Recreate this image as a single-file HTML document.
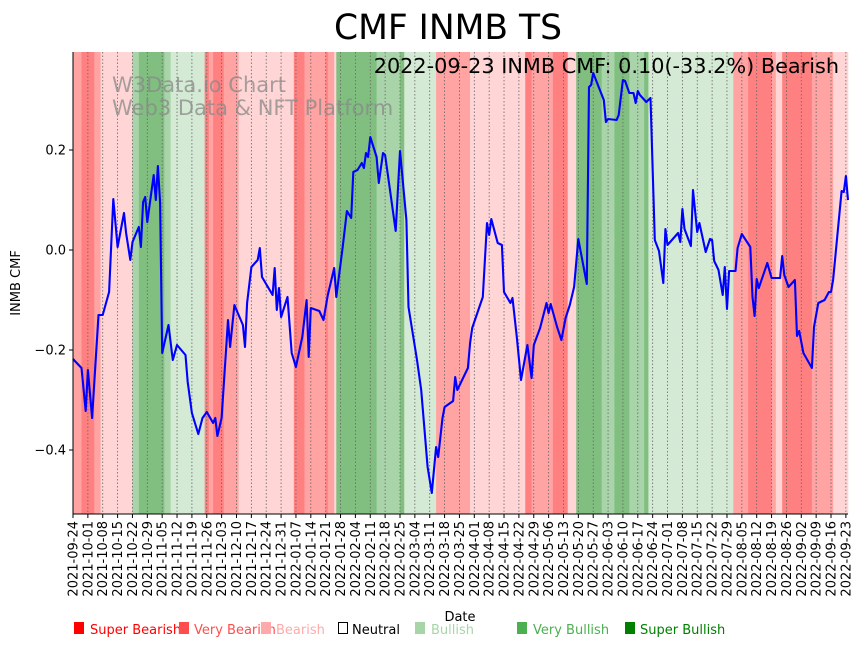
<!DOCTYPE html>
<html><head><meta charset="utf-8"><style>
html,body{margin:0;padding:0;background:#fff;}
svg{display:block;font-family:"DejaVu Sans","Liberation Sans",sans-serif;}
</style></head><body>
<svg id="chart" width="864" height="646" viewBox="0 0 864 646" xmlns="http://www.w3.org/2000/svg">
<text x="448" y="39" font-size="34.5" text-anchor="middle" fill="#000">CMF INMB TS</text>
<g id="bands"></g>
<g id="grid"></g>
<text x="112" y="92" font-size="21" fill="#888" fill-opacity="0.75">W3Data.io Chart</text>
<text x="112" y="115" font-size="21" fill="#888" fill-opacity="0.75">Web3 Data &amp; NFT Platform</text>
<text x="839" y="73" font-size="20.8" text-anchor="end" fill="#000">2022-09-23 INMB CMF: 0.10(-33.2%) Bearish</text>
<path id="line" fill="none" stroke="#0000ff" stroke-width="2.1" stroke-linejoin="round"></path>
<g id="axes"></g>
<text transform="translate(20,283) rotate(-90)" font-size="13" text-anchor="middle">INMB CMF</text>
<text x="460" y="621" font-size="13" text-anchor="middle">Date</text>
<g font-size="13">
<g><rect x="74" y="622" width="10" height="12" fill="#ff0000"/><text x="90" y="634" fill="#ff0000">Super Bearish</text></g>
<g><rect x="179" y="622" width="10" height="12" fill="#ff4d4d"/><text x="194" y="634" fill="#ff4d4d">Very Bearish</text></g>
<g><rect x="261" y="622" width="10" height="12" fill="#ffaaaa"/><text x="276" y="634" fill="#ffaaaa">Bearish</text></g>
<g><rect x="338.5" y="622.5" width="9" height="11" fill="none" stroke="#000"/><text x="352" y="634" fill="#000">Neutral</text></g>
<g><rect x="415" y="622" width="10" height="12" fill="#a8d5a8"/><text x="431" y="634" fill="#a8d5a8">Bullish</text></g>
<g><rect x="517" y="622" width="10" height="12" fill="#4caf50"/><text x="533" y="634" fill="#4caf50">Very Bullish</text></g>
<g><rect x="625" y="622" width="10" height="12" fill="#008000"/><text x="640" y="634" fill="#008000">Super Bullish</text></g>
</g>
</svg>
<script>
var days = [0,4,6,7,9,12,14,17,19,21,24,25,27,28,31,32,33,34,35,38,39,40,41,42,45,47,49,53,54,56,59,61,63,66,67,68,70,73,74,76,80,81,82,84,87,88,89,94,95,96,97,98,101,103,105,108,110,111,112,116,118,120,123,124,127,129,131,132,134,136,137,138,139,140,143,144,146,147,152,154,157,158,162,164,167,169,171,172,174,175,179,180,181,186,187,188,193,195,196,197,200,202,203,206,207,209,211,214,216,217,220,223,224,225,228,230,232,234,236,238,242,243,244,245,250,251,252,256,257,259,260,262,264,265,266,267,270,272,274,276,278,279,280,285,286,287,288,291,292,294,295,298,300,301,302,304,306,307,308,309,312,313,315,319,320,321,322,323,327,329,333,334,335,337,340,341,342,344,348,349,351,354,356,357,358,362,363,364,365];
var cmfValues = [-0.218,-0.236,-0.322,-0.240,-0.336,-0.130,-0.130,-0.084,0.102,0.006,0.074,0.034,-0.020,0.016,0.046,0.006,0.096,0.106,0.056,0.150,0.100,0.168,0.094,-0.206,-0.150,-0.220,-0.190,-0.210,-0.264,-0.326,-0.368,-0.336,-0.324,-0.346,-0.336,-0.372,-0.336,-0.140,-0.194,-0.110,-0.150,-0.194,-0.106,-0.034,-0.020,0.004,-0.054,-0.090,-0.036,-0.120,-0.076,-0.134,-0.094,-0.206,-0.234,-0.174,-0.100,-0.214,-0.116,-0.122,-0.140,-0.090,-0.036,-0.094,0.006,0.078,0.064,0.156,0.160,0.174,0.164,0.194,0.186,0.226,0.186,0.134,0.194,0.190,0.038,0.198,0.060,-0.114,-0.220,-0.280,-0.434,-0.486,-0.394,-0.414,-0.336,-0.314,-0.302,-0.254,-0.280,-0.236,-0.186,-0.156,-0.094,0.054,0.030,0.062,0.014,0.010,-0.084,-0.106,-0.096,-0.174,-0.260,-0.190,-0.256,-0.190,-0.156,-0.106,-0.126,-0.108,-0.154,-0.180,-0.136,-0.110,-0.074,0.022,-0.068,0.326,0.330,0.354,0.300,0.256,0.262,0.260,0.270,0.340,0.338,0.314,0.314,0.294,0.318,0.310,0.296,0.304,0.020,-0.002,-0.066,0.042,0.010,0.034,0.016,0.082,0.042,0.008,0.120,0.036,0.054,-0.004,0.022,0.020,-0.022,-0.040,-0.090,-0.034,-0.118,-0.042,-0.042,0.004,0.032,0.006,-0.094,-0.132,-0.058,-0.076,-0.026,-0.056,-0.056,-0.012,-0.050,-0.074,-0.060,-0.172,-0.162,-0.206,-0.236,-0.154,-0.106,-0.100,-0.084,-0.084,-0.060,0.118,0.116,0.148,0.100];
var bandStart = [0,4,10,13,28,31,43,46,62,64,66,71,78,104,109,119,120,123,124,143,149,154,156,171,187,213,216,226,233,237,249,255,262,269,271,311,318,329,331,333,334,348,358];
var bandCat = [2,1,2,3,6,7,6,5,1,2,1,2,3,1,2,1,2,3,7,6,6,7,5,2,3,1,2,1,3,7,6,7,6,7,5,2,1,2,3,3,1,2,3];
var yTicks = [0.2, 0.0, -0.2, -0.4];
var yTickLabels = ["0.2","0.0","\u22120.2","\u22120.4"];
var startDate = "2021-09-24";
var totalDays = 365;

var NS = "http://www.w3.org/2000/svg";
var L=73,R=848,T=52,B=514, YMAX=0.396, YMIN=-0.528;
function xs(d){return L + d*(R-L)/totalDays;}
function ys(v){return T + (YMAX-v)/(YMAX-YMIN)*(B-T);}
var bandColors = {1:"#ff8080",2:"#ffa3a3",3:"#ffd5d5",5:"#d4ead4",6:"#a9d4a9",7:"#80bf80"};
var bandNames = {1:"super-bearish",2:"very-bearish",3:"bearish",5:"bullish",6:"very-bullish",7:"super-bullish"};
function mk(tag, attrs, parent){var e=document.createElementNS(NS,tag);for(var k in attrs)e.setAttribute(k,attrs[k]);parent.appendChild(e);return e;}

var gb=document.getElementById("bands");
for(var i=0;i<bandStart.length;i++){
  var s=bandStart[i], e=(i+1<bandStart.length)?bandStart[i+1]:totalDays;
  var r=mk("rect",{x:xs(s),y:T,width:xs(e)-xs(s)+0.3,height:B-T,fill:bandColors[bandCat[i]]},gb);
  
  
}
var gg=document.getElementById("grid"), ga=document.getElementById("axes");
var sd=new Date(startDate+"T00:00:00Z");
for(var d=0; d<=totalDays; d+=7){
  var x=xs(d);
  var gl=mk("line",{x1:x,x2:x,y1:T,y2:B,stroke:"#666","stroke-width":0.8,"stroke-dasharray":"1.5,2"},gg);
  
  
  var tk=mk("line",{x1:x,x2:x,y1:B,y2:B+4,stroke:"#000","stroke-width":1},ga);
  
  
  var dt=new Date(sd.getTime()+d*86400000);
  var lab=dt.toISOString().slice(0,10);
  var t=mk("text",{transform:"translate("+(x+4.5)+","+(B+7)+") rotate(-90)","font-size":13,"text-anchor":"end"},ga);
  t.textContent=lab;
  
  
}
for(var j=0;j<yTicks.length;j++){
  var y=ys(yTicks[j]);
  var yt=mk("line",{x1:L-4,x2:L,y1:y,y2:y,stroke:"#000","stroke-width":1},ga);
  
  
  var tl=mk("text",{x:L-7,y:y+4.5,"font-size":13,"text-anchor":"end"},ga);
  tl.textContent=yTickLabels[j];
  
  
}
var la=mk("line",{x1:L,x2:L,y1:T,y2:B,stroke:"#000","stroke-width":1},ga);


var lb=mk("line",{x1:L,x2:R,y1:B,y2:B,stroke:"#000","stroke-width":1},ga);


var p="";
for(var k=0;k<days.length;k++){p+=(k?"L":"M")+xs(days[k]).toFixed(1)+","+ys(cmfValues[k]).toFixed(1);}
document.getElementById("line").setAttribute("d",p);
</script>
</body></html>
